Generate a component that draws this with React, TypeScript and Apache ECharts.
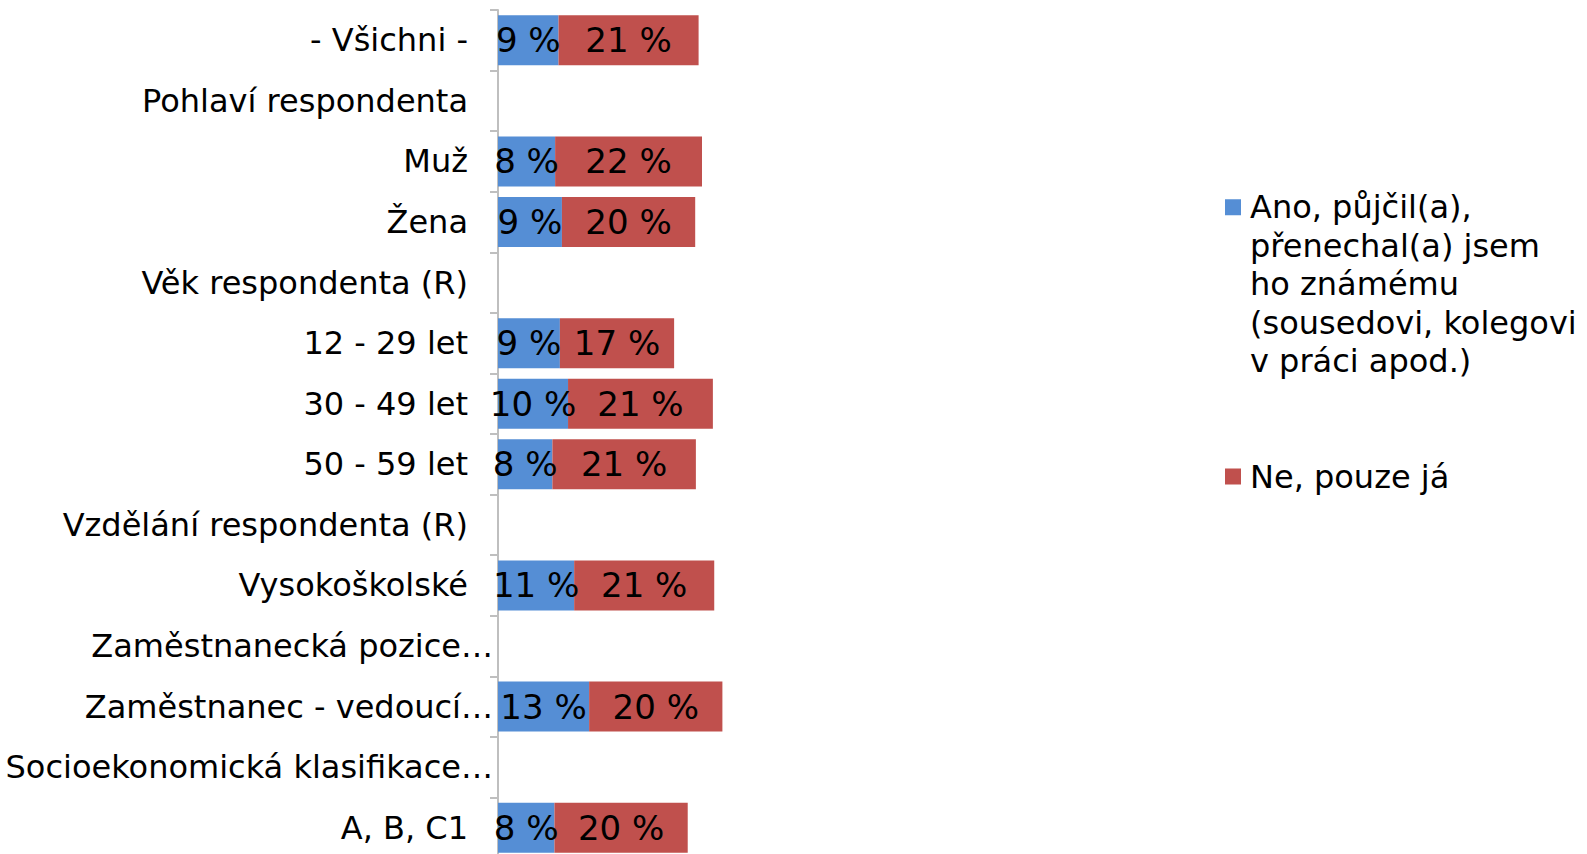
import React, { useEffect, useRef } from "react";
import * as echarts from "echarts";

const categories = [
  "- Všichni -",
  "Pohlaví respondenta",
  "Muž",
  "Žena",
  "Věk respondenta (R)",
  "12 - 29 let",
  "30 - 49 let",
  "50 - 59 let",
  "Vzdělání respondenta (R)",
  "Vysokoškolské",
  "Zaměstnanecká pozice…",
  "Zaměstnanec - vedoucí…",
  "Socioekonomická klasifikace…",
  "A, B, C1",
];
const truncated = [
  "Zaměstnanecká pozice…",
  "Zaměstnanec - vedoucí…",
  "Socioekonomická klasifikace…",
];

const anoValues = [8.9, null, 8.4, 9.4, null, 9.1, 10.3, 8.0, null, 11.2, null, 13.4, null, 8.3];
const neValues = [20.6, null, 21.6, 19.6, null, 16.8, 21.3, 21.1, null, 20.6, null, 19.6, null, 19.6];

const anoName = "Ano, půjčil(a), přenechal(a) jsem ho známému (sousedovi, kolegovi v práci apod.)";
const neName = "Ne, pouze já";
const anoLegendLines = [
  "Ano, půjčil(a),",
  "přenechal(a) jsem",
  "ho známému",
  "(sousedovi, kolegovi",
  "v práci apod.)",
];

const FONT = "DejaVu Sans";

export default function App() {
  const ref = useRef<HTMLDivElement>(null);
  useEffect(() => {
    if (!ref.current) return;
    const chart = echarts.init(ref.current, undefined, { renderer: "svg" });
    const dataLabel = {
      show: true,
      position: "inside",
      color: "#000",
      fontSize: 34,
      fontFamily: FONT,
      formatter: (p: any) => `${Math.round(p.value)} %`,
    };
    chart.setOption({
      animation: false,
      backgroundColor: "#fff",
      textStyle: { fontFamily: FONT },
      grid: { left: 498, top: 10, width: 680, height: 848, containLabel: false },
      xAxis: { type: "value", min: 0, max: 100, show: false },
      yAxis: {
        type: "category",
        data: categories,
        inverse: true,
        axisLine: { show: true, lineStyle: { color: "#BFBFBF", width: 2 } },
        axisTick: { show: true, length: 8, lineStyle: { color: "#BFBFBF", width: 2 } },
        axisLabel: {
          margin: 5,
          color: "#000",
          fontSize: 32,
          fontFamily: FONT,
          formatter: (v: string) => (truncated.includes(v) ? v : `${v}{s| }`),
          rich: { s: { width: 25, fontSize: 32 } },
        },
      },
      legend: {
        orient: "vertical",
        left: 1225,
        top: 188,
        padding: 0,
        itemGap: 0,
        itemWidth: 16,
        itemHeight: 192,
        selectedMode: false,
        textStyle: {
          color: "#000",
          fontSize: 32,
          lineHeight: 38.5,
          fontFamily: FONT,
          padding: [0, 0, 0, 4],
        },
        formatter: (name: string) => (name === anoName ? anoLegendLines.join("\n") : name),
        data: [
          {
            name: anoName,
            icon: "path://M0,0h0.01v0.01h-0.01zM0,11h16v16h-16zM15.99,191.99h0.01v0.01h-0.01z",
          },
          {
            name: neName,
            icon: "path://M0,0h0.01v0.01h-0.01zM0,88h16v16h-16zM15.99,191.99h0.01v0.01h-0.01z",
          },
        ],
      },
      series: [
        {
          name: anoName,
          type: "bar",
          stack: "total",
          barWidth: 50,
          itemStyle: { color: "#558ED5" },
          label: dataLabel,
          data: anoValues,
        },
        {
          name: neName,
          type: "bar",
          stack: "total",
          barWidth: 50,
          itemStyle: { color: "#C0504D" },
          label: dataLabel,
          data: neValues,
        },
      ],
    });
    return () => chart.dispose();
  }, []);
  return (
    <div
      style={{
        position: "absolute",
        left: 0,
        top: 0,
        width: 1587,
        height: 854,
        overflow: "hidden",
        background: "#fff",
      }}
    >
      <div ref={ref} style={{ width: 1587, height: 880 }} />
    </div>
  );
}
